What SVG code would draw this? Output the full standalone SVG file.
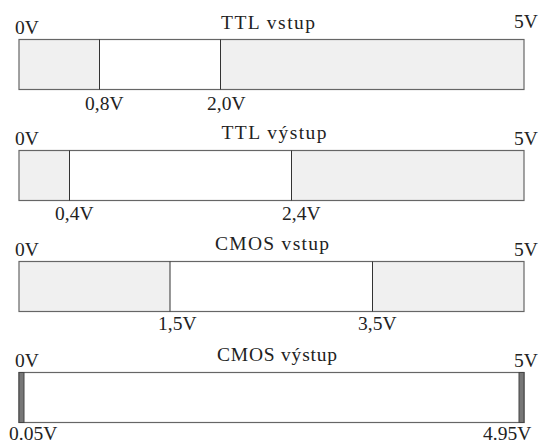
<svg xmlns="http://www.w3.org/2000/svg" width="540" height="443" viewBox="0 0 540 443">
<style>
text{font-family:"Liberation Serif","DejaVu Serif",serif;font-size:19.5px;fill:#222}
.t{text-anchor:middle}
.box{stroke:#666;stroke-width:1.2}
.g{fill:#f0f0f0}
.w{fill:#ffffff}
.div{stroke:#333;stroke-width:1}
.end{fill:#777;stroke:#444;stroke-width:1}
</style>
<rect width="540" height="443" fill="#fff"/>
<g id="ttl-vstup">
<rect class="g" x="19" y="39.5" width="80.5" height="50"/>
<rect class="w" x="99.5" y="39.5" width="121" height="50"/>
<rect class="g" x="220.5" y="39.5" width="303.5" height="50"/>
<rect class="box" fill="none" x="19" y="39.5" width="505" height="50"/>
<line class="div" x1="99.5" y1="39.5" x2="99.5" y2="89.5"/>
<line class="div" x1="220.5" y1="39.5" x2="220.5" y2="89.5"/>
<text x="15" y="34">0V</text>
<text class="t" x="268" y="29" textLength="94">TTL vstup</text>
<text x="514" y="28">5V</text>
<text x="85" y="110">0,8V</text>
<text x="207" y="110">2,0V</text>
</g>
<g id="ttl-vystup">
<rect class="g" x="19" y="150.5" width="50.5" height="50"/>
<rect class="w" x="69.5" y="150.5" width="222" height="50"/>
<rect class="g" x="291.5" y="150.5" width="232.5" height="50"/>
<rect class="box" fill="none" x="19" y="150.5" width="505" height="50"/>
<line class="div" x1="69.5" y1="150.5" x2="69.5" y2="200.5"/>
<line class="div" x1="291.5" y1="150.5" x2="291.5" y2="200.5"/>
<text x="15" y="145">0V</text>
<text class="t" x="274" y="139" textLength="105">TTL výstup</text>
<text x="514" y="145">5V</text>
<text x="55" y="220">0,4V</text>
<text x="282" y="220">2,4V</text>
</g>
<g id="cmos-vstup">
<rect class="g" x="19" y="261.5" width="151" height="50"/>
<rect class="w" x="170" y="261.5" width="202.5" height="50"/>
<rect class="g" x="372.5" y="261.5" width="151.5" height="50"/>
<rect class="box" fill="none" x="19" y="261.5" width="505" height="50"/>
<line class="div" x1="170" y1="261.5" x2="170" y2="311.5"/>
<line class="div" x1="372.5" y1="261.5" x2="372.5" y2="311.5"/>
<text x="15" y="256">0V</text>
<text class="t" x="272" y="250" textLength="114">CMOS vstup</text>
<text x="514" y="256">5V</text>
<text x="158" y="330">1,5V</text>
<text x="358" y="330">3,5V</text>
</g>
<g id="cmos-vystup">
<rect class="w" x="19" y="372.5" width="505" height="50"/>
<rect class="box" fill="none" x="19" y="372.5" width="505" height="50"/>
<rect class="end" x="19" y="372.5" width="5" height="50"/>
<rect class="end" x="519" y="372.5" width="5" height="50"/>
<text x="15" y="367">0V</text>
<text class="t" x="277" y="361" textLength="120">CMOS výstup</text>
<text x="514" y="367">5V</text>
<text x="9" y="440">0.05V</text>
<text x="483" y="440">4.95V</text>
</g>
</svg>
